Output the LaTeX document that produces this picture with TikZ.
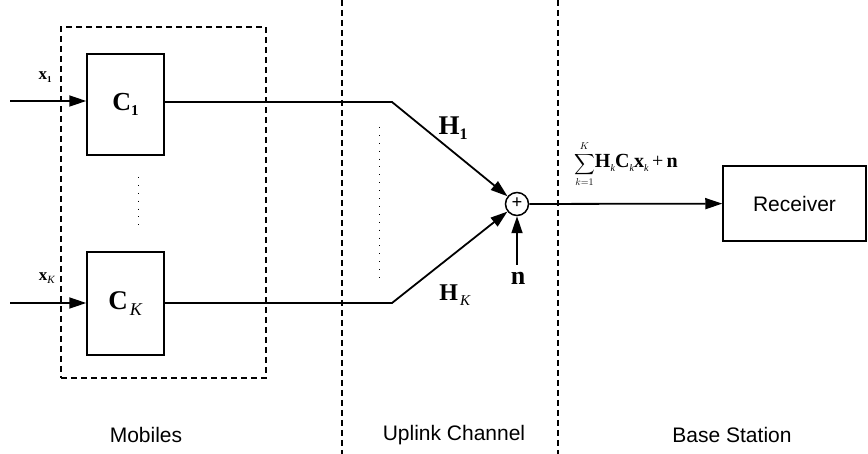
\documentclass[tikz,border=0pt]{standalone}
\usepackage{amsmath}
\usepackage{fontspec}
\setmainfont{Liberation Serif}
\newfontfamily\arialfam{Liberation Sans}
\usetikzlibrary{arrows.meta}
\newcommand\lsub[2][11]{\raisebox{-0.45ex}{\fontsize{#1}{#1}\selectfont #2}}
\begin{document}
\begin{tikzpicture}[x=1pt,y=-1pt,
  line width=1.8pt,
  blk/.style={draw, line width=1.5pt, inner sep=0pt},
  arr/.style={-{Triangle[length=17pt,width=11pt]}},
  dsh/.style={line width=1.3pt, dash pattern=on 6pt off 4pt},
  dots/.style={line width=0.9pt, dash pattern=on 0.9pt off 7pt},
  captxt/.style={font=\arialfam\fontsize{21}{21}\selectfont},
  lab/.style={inner sep=0pt}]
\useasboundingbox (0,0) rectangle (868,454);

% mobiles dashed box
\node[draw, dsh, minimum width=205pt, minimum height=351pt, inner sep=0pt] (mob) at (163.5,202.5) {};

% coder blocks
\node[blk, minimum width=77pt, minimum height=101pt] (c1) at (125.5,104.5)
  {\fontsize{26}{26}\selectfont\textbf{C}\lsub[15]{\textbf{1}}};
\node[blk, minimum width=77pt, minimum height=103pt] (ck) at (125.5,303.5)
  {\fontsize{27}{27}\selectfont\textbf{C}\kern2pt\lsub[18]{\textit{K}}};

% inputs
\coordinate (in1) at (10,101);
\coordinate (ink) at (10,303);
\draw[arr] (in1) -- (c1.west |- in1);
\draw[arr] (ink) -- (ck.west |- ink);
\node[lab] (x1) at (45,77) {\fontsize{17}{17}\selectfont\textbf{x}\lsub[9]{\textbf{1}}};
\node[lab] (xk) at (47,278) {\fontsize{17}{17}\selectfont\textbf{x}\lsub[11]{\textit{K}}};

% dots
\coordinate (d1a) at (138,177);
\coordinate (d1b) at (138,226);
\draw[dots] (d1a) -- (d1b);
\coordinate (d2a) at (379,127);
\coordinate (d2b) at (379,280);
\draw[dots] (d2a) -- (d2b);

% section dividers
\coordinate (v1t) at (342,0);
\coordinate (v1b) at (342,454);
\coordinate (v2t) at (558,0);
\coordinate (v2b) at (558,454);
\draw[dsh] (v1t) -- (v1b);
\draw[dsh] (v2t) -- (v2b);

% adder
\node[draw, circle, line width=1.5pt, minimum size=23pt, inner sep=0pt, fill=white] (sum) at (517,204)
  {\fontsize{19}{19}\selectfont\raisebox{0.1ex}{\textbf{+}}};

% channel paths
\coordinate (b1) at (392,102);
\coordinate (bk) at (392,303);
\draw[arr] (c1.east |- b1) -- (b1) -- (sum);
\draw[arr] (ck.east |- bk) -- (bk) -- (sum);
\node[lab] (h1) at (453,128) {\fontsize{27}{27}\selectfont\textbf{H}\lsub[16]{\textbf{1}}};
\node[lab] (hk) at (455,295) {\fontsize{24}{24}\selectfont\textbf{H}\kern2pt\lsub[15]{\textit{K}}};

% noise
\coordinate (ns) at (517,265);
\draw[arr] (ns) -- (sum);
\node[lab] (n) at (518,278) {\fontsize{26}{26}\selectfont\textbf{n}};

% receiver
\node[blk, minimum width=143pt, minimum height=75pt, captxt] (rx) at (794.5,203.5) {Receiver};
\draw[arr] (sum) -- (rx);
\node[lab] (sig) at (626,164) {\fontsize{14}{14}\selectfont$\displaystyle\sum_{k=1}^{K}$\fontsize{20}{20}\selectfont\textbf{H}\lsub[10]{\textit{k}}\textbf{C}\lsub[10]{\textit{k}}\textbf{x}\lsub[10]{\textit{k}}\,+\,\textbf{n}};

% section captions
\node[captxt] (m) at (146,435) {Mobiles};
\node[captxt] (u) at (454,435) {Uplink Channel};
\node[captxt] (b) at (732,435) {Base Station};
\end{tikzpicture}
\end{document}
